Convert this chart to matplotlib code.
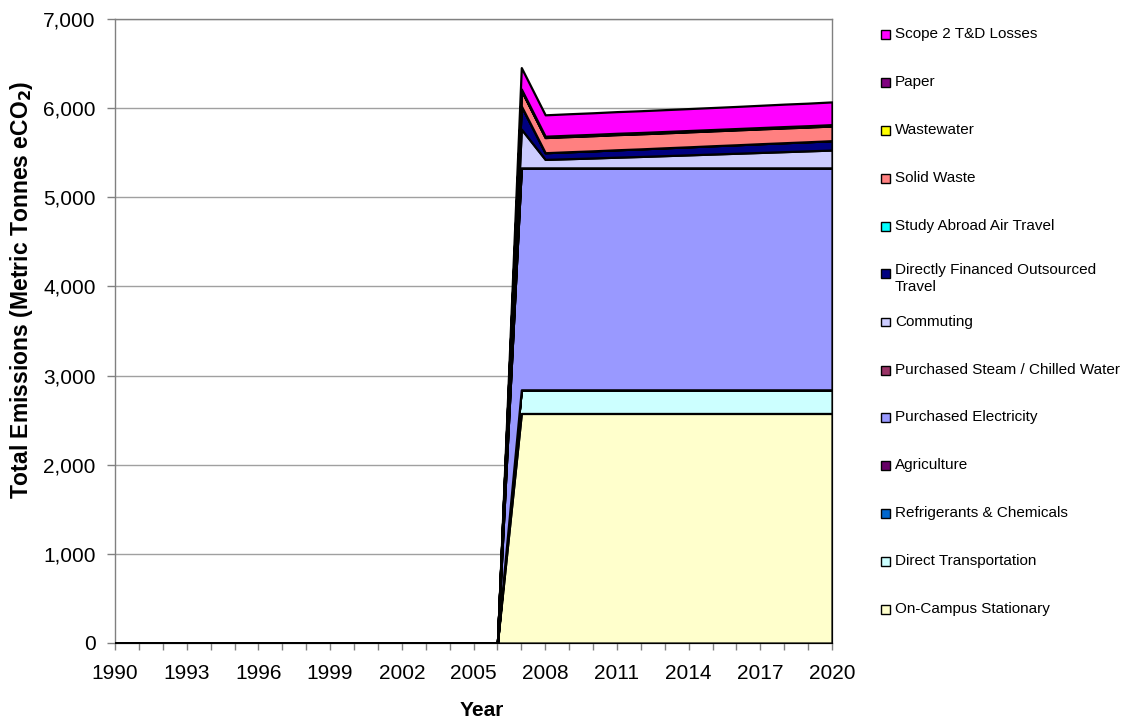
import matplotlib
matplotlib.use("Agg")
import matplotlib.pyplot as plt
from matplotlib.patches import Rectangle
from matplotlib.ticker import FuncFormatter, MultipleLocator, FixedLocator

plt.rcParams["font.family"] = ["Liberation Sans", "DejaVu Sans"]
plt.rcParams["mathtext.default"] = "regular"

years = list(range(1990, 2021))
pre = [0] * 17  # 1990-2006: no inventory data

on_campus_stationary = pre + [2575] * 14
direct_transportation = pre + [265] * 14
refrigerants_chemicals = pre + [0] * 14
agriculture = pre + [0] * 14
purchased_electricity = pre + [2490] * 14
purchased_steam = pre + [0] * 14
commuting = pre + [435, 95, 103, 111, 120, 128, 137, 146, 155, 164, 173, 182, 191, 200]
outsourced_travel = pre + [260, 75, 78, 80, 83, 85, 88, 90, 93, 95, 98, 100, 102, 105]
study_abroad_air = pre + [0] * 14
solid_waste = pre + [175, 170, 170, 170, 170, 169, 168, 168, 167, 167, 166, 166, 165, 165]
wastewater = pre + [5] * 14
paper = pre + [10] * 14
scope2_td_losses = pre + [240, 240, 241, 242, 243, 244, 245, 246, 247, 248, 250, 252, 253, 255]

year_ticks = list(range(1990, 2021, 3))

series = [
    ("On-Campus Stationary", on_campus_stationary, "#FFFFCC"),
    ("Direct Transportation", direct_transportation, "#CCFFFF"),
    ("Refrigerants & Chemicals", refrigerants_chemicals, "#0066CC"),
    ("Agriculture", agriculture, "#660066"),
    ("Purchased Electricity", purchased_electricity, "#9999FF"),
    ("Purchased Steam / Chilled Water", purchased_steam, "#993366"),
    ("Commuting", commuting, "#CCCCFF"),
    ("Directly Financed Outsourced\nTravel", outsourced_travel, "#000080"),
    ("Study Abroad Air Travel", study_abroad_air, "#00FFFF"),
    ("Solid Waste", solid_waste, "#FF8080"),
    ("Wastewater", wastewater, "#FFFF00"),
    ("Paper", paper, "#800080"),
    ("Scope 2 T&D Losses", scope2_td_losses, "#FF00FF"),
]

W, H = 1129, 723
fig = plt.figure(figsize=(W / 100, H / 100), dpi=100)
ax = fig.add_axes([115 / W, 1 - 643 / H, (832 - 115) / W, (643 - 19) / H])

ax.stackplot(years, [s[1] for s in series], colors=[s[2] for s in series],
             edgecolor="black", linewidth=1.6, zorder=3)

ax.set_xlim(1990, 2020)
ax.set_ylim(0, 7000)
ax.yaxis.set_major_locator(MultipleLocator(1000))
ax.yaxis.set_major_formatter(FuncFormatter(lambda v, p: f"{int(v):,}"))
ax.xaxis.set_major_locator(FixedLocator(year_ticks))
ax.xaxis.set_minor_locator(MultipleLocator(1))
ax.grid(axis="y", color="#A0A0A0", linewidth=1.0, zorder=0)
for sp in ax.spines.values():
    sp.set_color("#808080")
    sp.set_linewidth(1.0)
ax.tick_params(axis="both", which="both", color="#808080", labelsize=15, width=1.0)
ax.tick_params(axis="x", which="both", length=5, pad=10)
ax.tick_params(axis="y", length=6, pad=8)

fig.text(482 / W, 1 - 711 / H, "Year", ha="center", va="center",
         fontsize=15, fontweight="bold")
fig.text(22 / W, 1 - 290 / H, r"Total Emissions (Metric Tonnes eCO$_\mathbf{2}$)",
         rotation=90, ha="center", va="center", fontsize=16.5, fontweight="bold")

# Legend: top entry is the top of the stack
legend_y = [34, 82, 130, 178, 226, 273, 322, 370, 417, 465, 513, 561, 609]
for (label, _, color), y in zip(reversed(series), legend_y):
    sq = 9
    fig.add_artist(Rectangle(((885 - sq / 2) / W, 1 - (y + sq / 2) / H), sq / W, sq / H,
                             transform=fig.transFigure, facecolor=color,
                             edgecolor="black", linewidth=1.0))
    if "\n" in label:
        fig.text(895 / W, 1 - (y - 10) / H, label, ha="left", va="top",
                 fontsize=11, linespacing=1.3)
    else:
        fig.text(895 / W, 1 - y / H, label, ha="left", va="center", fontsize=11)

fig.savefig("out.png", dpi=100)
